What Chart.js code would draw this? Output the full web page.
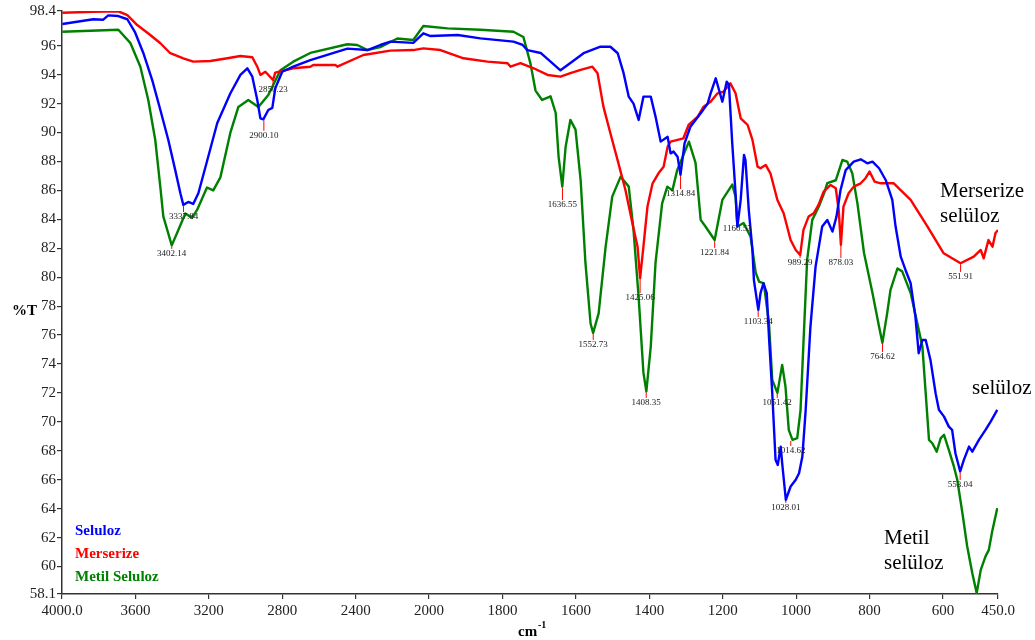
<html>
<head>
  <script src="https://cdn.jsdelivr.net/npm/chart.js@4.4.1/dist/chart.umd.min.js"></script>
  <style>
    body { margin: 0; background: #fff; }
    #wrap { width: 1035px; height: 640px; position: relative; }
  </style>
</head>
<body>
  <div id="wrap"><canvas id="ftir"></canvas></div>

<script>
  // x axis ticks (cm-1) -- the scale changes at 2000
  var xTicks = [4000, 3600, 3200, 2800, 2400, 2000, 1800, 1600, 1400, 1200, 1000, 800, 600, 450];
  var xTickLabels = ['4000.0', '3600', '3200', '2800', '2400', '2000', '1800', '1600', '1400', '1200', '1000', '800', '600', '450.0'];
  var yTicks = [58.1, 60, 62, 64, 66, 68, 70, 72, 74, 76, 78, 80, 82, 84, 86, 88, 90, 92, 94, 96, 98.4];

  // Seluloz (blue)
  var selulozWn = [3998, 3829, 3775, 3748, 3693, 3644, 3601, 3557, 3508, 3464, 3421, 3383, 3355, 3339, 3312, 3285, 3257, 3208, 3154, 3083,
    3028, 2990, 2963, 2936, 2919, 2903, 2876, 2854, 2838, 2800, 2740, 2647, 2445, 2336, 2266, 2211, 2086, 2031, 1996, 1922,
    1860, 1770, 1745, 1732, 1696, 1669, 1642, 1615, 1579, 1533, 1506, 1486, 1470, 1456, 1443, 1429, 1416, 1396, 1383, 1369,
    1350, 1342, 1334, 1323, 1315, 1304, 1288, 1260, 1241, 1233, 1219, 1210, 1201, 1189, 1183, 1174, 1165, 1160, 1151, 1142,
    1138, 1129, 1119, 1115, 1103, 1097, 1089, 1080, 1074, 1065, 1056, 1050, 1042, 1038, 1028, 1015, 1001, 992, 983, 974,
    961, 947, 929, 915, 901, 890, 879, 865, 843, 824, 806, 792, 774, 756, 738, 729, 715, 702, 688, 675,
    666, 656, 647, 634, 620, 611, 597, 584, 575, 566, 553, 543, 529, 520, 502, 484, 470, 452];
  var selulozT = [97.5, 97.83, 97.8, 98.1, 98.05, 97.83, 96.9, 95.5, 93.6, 91.56, 89.5, 87.4, 85.8, 85.0, 85.2, 85.06, 85.8, 88.1, 90.66, 92.7,
    93.98, 94.44, 93.86, 92.25, 90.98, 90.91, 91.56, 91.7, 93.06, 94.2, 94.55, 95.0, 95.8, 95.7, 96.05, 96.28, 96.2, 96.86, 96.67, 96.74,
    96.51, 96.28, 96.05, 95.7, 95.5, 94.9, 94.3, 94.8, 95.48, 95.93, 95.93, 95.48, 94.1, 92.48, 92.0, 90.87, 92.48, 92.48, 91.1, 89.37,
    89.7, 88.56, 88.68, 88.33, 87.07, 89.25, 90.4, 91.33, 92.0, 92.7, 93.75, 92.94, 92.13, 93.52, 93.29, 89.25, 85.8, 83.5, 85.34, 88.45,
    88.1, 84.65, 81.88, 79.8, 77.74, 78.9, 79.58, 78.9, 75.9, 71.98, 67.37, 67.02, 68.29, 67.14, 64.6, 65.53, 66.0, 66.45, 67.6, 70.8,
    76.58, 80.73, 83.5, 83.96, 83.15, 84.19, 86.03, 87.4, 87.99, 88.15, 87.87, 87.99, 87.53, 86.72, 85.34, 83.5, 81.42, 80.5, 79.58, 77.27,
    74.74, 75.66, 75.66, 74.28, 71.98, 70.83, 70.36, 69.67, 69.44, 67.83, 66.57, 67.37, 68.29, 67.94, 68.75, 69.44, 70.02, 70.83];

  // Merserize (red)
  var merserizeWn = [3998, 3829, 3693, 3644, 3590, 3519, 3464, 3410, 3339, 3285, 3192, 3099, 3028, 2963, 2936, 2919, 2892, 2850, 2838, 2740,
    2647, 2631, 2511, 2500, 2358, 2211, 2086, 2031, 1969, 1906, 1841, 1786, 1778, 1751, 1715, 1677, 1642, 1615, 1587, 1555,
    1541, 1525, 1506, 1484, 1465, 1446, 1432, 1425, 1416, 1405, 1391, 1375, 1361, 1350, 1342, 1323, 1307, 1293, 1268, 1252,
    1233, 1214, 1198, 1179, 1165, 1151, 1132, 1119, 1105, 1097, 1083, 1070, 1051, 1034, 1015, 1001, 989, 980, 966, 952,
    939, 925, 906, 892, 884, 878, 871, 857, 843, 824, 811, 800, 786, 770, 734, 688, 642, 598, 552, 516,
    497, 489, 476, 465, 457, 450];
  var merserizeT = [98.28, 98.35, 98.38, 98.12, 97.43, 96.74, 96.17, 95.48, 95.13, 94.9, 94.94, 95.13, 95.29, 95.2, 94.55, 93.98, 94.2, 93.63, 94.14, 94.44,
    94.55, 94.67, 94.67, 94.55, 95.36, 95.66, 95.7, 95.82, 95.7, 95.13, 94.9, 94.79, 94.55, 94.79, 94.44, 93.98, 93.86, 94.1, 94.33, 94.55,
    94.1, 91.79, 89.95, 87.87, 86.03, 83.73, 82.11, 79.93, 82.11, 84.88, 86.49, 87.18, 87.64, 89.02, 89.37, 89.49, 89.6, 90.52, 91.1, 91.79,
    92.13, 92.71, 92.82, 93.4, 92.71, 90.98, 90.52, 89.49, 87.64, 87.53, 87.76, 87.18, 85.34, 84.42, 82.57, 81.88, 81.53, 83.27, 84.19, 84.42,
    85.0, 85.91, 86.38, 86.15, 84.65, 82.23, 84.88, 85.8, 86.26, 86.49, 86.84, 87.3, 86.6, 86.49, 86.49, 85.34, 83.5, 81.65, 80.96, 81.42,
    81.88, 81.3, 82.57, 82.11, 83.04, 83.27];

  // Metil Seluloz (green)
  var metilWn = [3998, 3693, 3628, 3573, 3530, 3492, 3464, 3448, 3402, 3373, 3328, 3292, 3264, 3210, 3176, 3137, 3083, 3039, 2985, 2930,
    2876, 2810, 2740, 2647, 2445, 2391, 2336, 2266, 2173, 2086, 2031, 1950, 1860, 1770, 1743, 1724, 1710, 1692, 1669, 1655,
    1647, 1637, 1628, 1615, 1601, 1587, 1574, 1560, 1553, 1538, 1519, 1501, 1478, 1456, 1443, 1429, 1416, 1408, 1396, 1383,
    1365, 1351, 1337, 1324, 1292, 1274, 1260, 1247, 1222, 1201, 1174, 1165, 1160, 1143, 1124, 1110, 1101, 1088, 1074, 1065,
    1051, 1038, 1029, 1020, 1010, 997, 988, 980, 970, 956, 938, 924, 915, 892, 874, 861, 847, 833, 815, 792,
    774, 765, 752, 743, 724, 711, 688, 670, 656, 647, 638, 629, 617, 606, 597, 584, 570, 561, 547, 534,
    520, 508, 497, 484, 475, 466, 452];
  var metilT = [96.97, 97.1, 96.2, 94.55, 92.25, 89.5, 86.2, 84.2, 82.2, 83.05, 84.4, 84.1, 84.65, 86.2, 86.0, 86.9, 89.97, 91.77, 92.25, 91.77,
    92.6, 94.3, 94.9, 95.5, 96.1, 96.05, 95.7, 95.9, 96.5, 96.4, 97.36, 97.2, 97.1, 96.97, 96.6, 94.8, 92.9, 92.25, 92.5, 91.35,
    88.3, 86.26, 89.0, 90.87, 90.2, 86.7, 81.0, 76.8, 76.15, 77.5, 82.1, 85.57, 86.95, 86.26, 83.27, 78.6, 73.4, 72.1, 75.2, 81.0,
    85.1, 86.26, 86.0, 87.4, 89.37, 87.9, 83.96, 83.5, 82.57, 85.34, 86.4, 85.57, 83.5, 83.75, 82.8, 80.3, 79.7, 79.58, 76.84, 72.9,
    72.0, 73.94, 72.44, 69.44, 68.75, 68.87, 70.8, 75.46, 81.2, 83.96, 84.88, 85.8, 86.5, 86.7, 88.1, 87.99, 87.18, 85.1, 81.67, 78.9,
    76.58, 75.46, 77.5, 79.1, 80.6, 80.4, 78.9, 76.84, 75.2, 71.98, 68.75, 68.52, 67.94, 68.87, 69.1, 68.06, 66.9, 66.0, 63.7, 61.4,
    59.54, 58.16, 59.77, 60.7, 61.15, 62.4, 64.03];

  // peak labels: wavenumber, %T at the peak, %T where the label sits
  var peakText = ['3402.14', '3337.84', '2900.10', '2850.23', '1636.55', '1552.73', '1425.06', '1408.35', '1314.84', '1221.84',
    '1160.53', '1103.34', '1051.42', '1014.62', '1028.01', '989.29', '878.03', '764.62', '551.91', '553.04'];
  var peakWn = [3402.14, 3337.84, 2900.10, 2850.23, 1636.55, 1552.73, 1425.06, 1408.35, 1314.84, 1221.84,
    1160.53, 1103.34, 1051.42, 1014.62, 1028.01, 989.29, 878.03, 764.62, 551.91, 553.04];
  var peakT = [82.2, 85.0, 90.9, 93.63, 86.26, 76.15, 79.93, 72.1, 87.07, 82.57,
    83.5, 77.74, 72.0, 68.75, 64.6, 81.53, 82.23, 75.46, 80.96, 66.57];
  var peakLabelT = [81.61, 84.16, 89.78, 92.94, 84.99, 75.32, 78.57, 71.31, 85.75, 81.68,
    83.34, 76.91, 71.31, 67.99, 64.05, 80.98, 80.98, 74.49, 80.02, 65.64];

  var seriesNames = ['Seluloz', 'Merserize', 'Metil Seluloz'];
  var seriesColors = ['#0000ff', '#ff0000', '#008000'];

  function pts(wn, t) {
    var out = [];
    for (var i = 0; i < wn.length; i++) out.push({x: wn[i], y: t[i]});
    return out;
  }

  // broken wavenumber axis: 400 cm-1 per step above 2000, 200 cm-1 per step below
  function steps(v) {
    return v >= 2000 ? (4000 - v) / 400 : 5 + (2000 - v) / 200;
  }
  var totalSteps = steps(450);

  class FtirScale extends Chart.LinearScale {
    getPixelForValue(v) {
      return this.left + this.width * steps(v) / totalSteps;
    }
    getValueForPixel(p) {
      var s = (p - this.left) / this.width * totalSteps;
      return s <= 5 ? 4000 - s * 400 : 2000 - (s - 5) * 200;
    }
  }
  FtirScale.id = 'ftir';
  FtirScale.defaults = Chart.LinearScale.defaults;
  Chart.register(FtirScale);

  var serif = "'Liberation Serif', 'Times New Roman', serif";

  var extras = {
    id: 'extras',
    afterDatasetsDraw: function(chart) {
      var ctx = chart.ctx, xs = chart.scales.x, ys = chart.scales.y;
      ctx.save();
      // peak marks + labels
      ctx.font = '9px ' + serif;
      ctx.textAlign = 'center';
      ctx.textBaseline = 'middle';
      for (var i = 0; i < peakWn.length; i++) {
        var px = xs.getPixelForValue(peakWn[i]);
        var py = ys.getPixelForValue(peakT[i]);
        var ly = ys.getPixelForValue(peakLabelT[i]);
        if (ly - 5 > py + 1) {
          ctx.strokeStyle = '#ff0000';
          ctx.lineWidth = 1;
          ctx.beginPath();
          ctx.moveTo(px, py + 1);
          ctx.lineTo(px, ly - 5);
          ctx.stroke();
        }
        ctx.fillStyle = '#1a1a1a';
        ctx.fillText(peakText[i], px, ly);
      }

      // sample names next to the curves
      ctx.fillStyle = '#000';
      ctx.textAlign = 'left';
      ctx.font = '21px ' + serif;
      ctx.fillText('Merserize', 940, 191);
      ctx.fillText('selüloz', 940, 216);
      ctx.fillText('selüloz', 972, 388);
      ctx.fillText('Metil', 884, 538);
      ctx.fillText('selüloz', 884, 563);

      // legend text
      ctx.font = 'bold 15px ' + serif;
      for (var k = 0; k < seriesNames.length; k++) {
        ctx.fillStyle = seriesColors[k];
        ctx.fillText(seriesNames[k], 75, 531 + k * 23);
      }

      // axis titles
      ctx.fillStyle = '#000';
      ctx.font = 'bold 15px ' + serif;
      ctx.fillText('%T', 12, 311);
      ctx.fillText('cm', 518, 632);
      ctx.font = 'bold 10px ' + serif;
      ctx.fillText('-1', 538, 625);
      ctx.restore();
    }
  };

  new Chart(document.getElementById('ftir'), {
    type: 'line',
    data: {
      datasets: [
        {label: seriesNames[0], data: pts(selulozWn, selulozT), borderColor: seriesColors[0]},
        {label: seriesNames[1], data: pts(merserizeWn, merserizeT), borderColor: seriesColors[1]},
        {label: seriesNames[2], data: pts(metilWn, metilT), borderColor: seriesColors[2]}
      ]
    },
    options: {
      responsive: true,
      maintainAspectRatio: false,
      animation: false,
      layout: { padding: { left: 0, right: 37, top: 11, bottom: 0 } },
      elements: {
        point: { radius: 0 },
        line: { borderWidth: 2.4, tension: 0, borderJoinStyle: 'round' }
      },
      plugins: {
        legend: { display: false },
        tooltip: { enabled: false }
      },
      scales: {
        x: {
          type: 'ftir',
          min: 450,
          max: 4000,
          afterBuildTicks: function(s) { s.ticks = xTicks.map(function(v) { return {value: v}; }); },
          afterFit: function(s) { s.height = 46; },
          ticks: {
            autoSkip: false,
            maxRotation: 0,
            padding: 3,
            color: '#222',
            font: { family: serif, size: 15 },
            callback: function(v, i) { return xTickLabels[i]; }
          },
          grid: { drawOnChartArea: false, tickLength: 5, color: '#333', lineWidth: 1.2 },
          border: { color: '#333', width: 1.5 }
        },
        y: {
          min: 58.1,
          max: 98.4,
          afterBuildTicks: function(s) { s.ticks = yTicks.map(function(v) { return {value: v}; }); },
          afterFit: function(s) { s.width = 62; },
          ticks: {
            padding: 1,
            color: '#222',
            font: { family: serif, size: 15 },
            callback: function(v) { return String(v); }
          },
          grid: { drawOnChartArea: false, tickLength: 5, color: '#333', lineWidth: 1.2 },
          border: { color: '#333', width: 1.5 }
        }
      }
    },
    plugins: [extras]
  });
</script>
</body>
</html>
